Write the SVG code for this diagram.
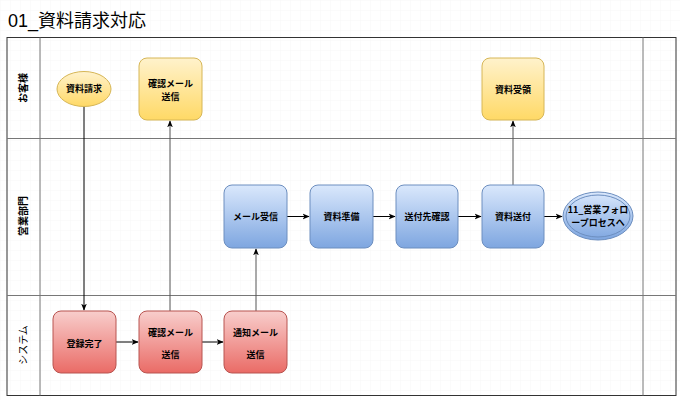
<svg xmlns="http://www.w3.org/2000/svg" width="680" height="400" viewBox="0 0 680 400">
<defs>
<pattern id="grid" width="10" height="10" patternUnits="userSpaceOnUse">
<path d="M10 0H0V10" fill="none" stroke="#f2f2f2" stroke-width="0.6"/>
</pattern>
<linearGradient id="gy" x1="0" y1="0" x2="0" y2="1"><stop offset="0" stop-color="#fff2cc"/><stop offset="1" stop-color="#ffd966"/></linearGradient>
<linearGradient id="gb" x1="0" y1="0" x2="0" y2="1"><stop offset="0" stop-color="#dae8fc"/><stop offset="1" stop-color="#7ea6e0"/></linearGradient>
<linearGradient id="gr" x1="0" y1="0" x2="0" y2="1"><stop offset="0" stop-color="#f8cecc"/><stop offset="1" stop-color="#ea6b66"/></linearGradient>
<marker id="arr" viewBox="0 0 10 10" refX="9" refY="5" markerWidth="7" markerHeight="7" orient="auto" markerUnits="userSpaceOnUse">
<path d="M0 1L10 5L0 9L2.5 5Z" fill="#000"/>
</marker>
</defs>
<style>
text{font-family:"Noto Sans CJK JP","Liberation Sans",sans-serif;fill:#000}
.t{font-size:9px;font-weight:bold;text-anchor:middle}
.lane{font-size:10px;font-weight:bold;text-anchor:middle}
.y{fill:url(#gy);stroke:#d6b656;stroke-width:1}
.b{fill:url(#gb);stroke:#6c8ebf;stroke-width:1}
.r{fill:url(#gr);stroke:#b85450;stroke-width:1}
.c{fill:none;stroke:#000;stroke-width:1;marker-end:url(#arr)}
.c2{fill:none;stroke:#555;stroke-width:1;marker-end:url(#arr)}
</style>
<rect width="680" height="400" fill="#fff"/>
<rect width="680" height="400" fill="url(#grid)"/>
<text x="8" y="27" style="font-family:'Liberation Sans','Noto Sans CJK JP',sans-serif;font-size:18px">01_資料請求対応</text>
<g id="pool">
<rect x="7" y="37.5" width="669" height="358" fill="none" stroke="#333" stroke-width="1"/>
<line x1="40" y1="37.5" x2="40" y2="395.5" stroke="#777" stroke-width="1"/>
<line x1="643" y1="37.5" x2="643" y2="395.5" stroke="#777" stroke-width="1"/>
<line x1="7" y1="138.5" x2="676" y2="138.5" stroke="#777" stroke-width="1"/>
<line x1="7" y1="295.5" x2="676" y2="295.5" stroke="#777" stroke-width="1"/>
</g>
<g id="lane-labels">
<text class="lane" transform="translate(27 88) rotate(-90)">お客様</text>
<text class="lane" transform="translate(27 216) rotate(-90)">営業部門</text>
<text class="lane" style="font-weight:normal" transform="translate(27 345) rotate(-90)">システム</text>
</g>
<g id="connectors">
<path class="c" d="M84 106V310"/>
<path class="c" d="M116 342H138"/>
<path class="c2" d="M170 311V121"/>
<path class="c" d="M202 342H223"/>
<path class="c2" d="M256 311V249"/>
<path class="c" d="M287 216.5H309"/>
<path class="c" d="M373 216.5H395"/>
<path class="c" d="M458 216.5H481"/>
<path class="c" d="M544 216.5H562"/>
<path class="c2" d="M513 185V121"/>
</g>
<g id="n-request">
<ellipse class="y" cx="84" cy="89" rx="27" ry="17.5"/>
<text class="t" x="84" y="92">資料請求</text>
</g>
<g id="n-confirm-customer">
<rect class="y" x="139" y="58" width="63" height="62" rx="8"/>
<text class="t" x="170.5" y="87">確認メール</text>
<text class="t" x="170.5" y="100">送信</text>
</g>
<g id="n-receive-doc">
<rect class="y" x="482" y="58" width="62" height="62" rx="8"/>
<text class="t" x="513" y="93">資料受領</text>
</g>
<g id="n-mail-recv">
<rect class="b" x="224" y="185" width="63" height="63" rx="8"/>
<text class="t" x="255.5" y="220">メール受信</text>
</g>
<g id="n-prep">
<rect class="b" x="310" y="185" width="63" height="63" rx="8"/>
<text class="t" x="341.5" y="220">資料準備</text>
</g>
<g id="n-check">
<rect class="b" x="396" y="185" width="62" height="63" rx="8"/>
<text class="t" x="427" y="220">送付先確認</text>
</g>
<g id="n-send">
<rect class="b" x="482" y="185" width="62" height="63" rx="8"/>
<text class="t" x="513" y="220">資料送付</text>
</g>
<g id="n-follow">
<ellipse class="b" cx="598" cy="216" rx="35" ry="24"/>
<ellipse cx="598" cy="216" rx="32" ry="21" fill="none" stroke="#6c8ebf" stroke-width="1"/>
<text class="t" x="598" y="212.5">11_営業フォロ</text>
<text class="t" x="598" y="225.5">ープロセスへ</text>
</g>
<g id="n-register">
<rect class="r" x="53" y="311" width="63" height="62" rx="8"/>
<text class="t" x="84.5" y="347">登録完了</text>
</g>
<g id="n-confirm-sys">
<rect class="r" x="139" y="311" width="63" height="62" rx="8"/>
<text class="t" x="170.5" y="336">確認メール</text>
<text class="t" x="170.5" y="358">送信</text>
</g>
<g id="n-notify">
<rect class="r" x="224" y="311" width="63" height="62" rx="8"/>
<text class="t" x="255.5" y="336">通知メール</text>
<text class="t" x="255.5" y="358">送信</text>
</g>
</svg>
